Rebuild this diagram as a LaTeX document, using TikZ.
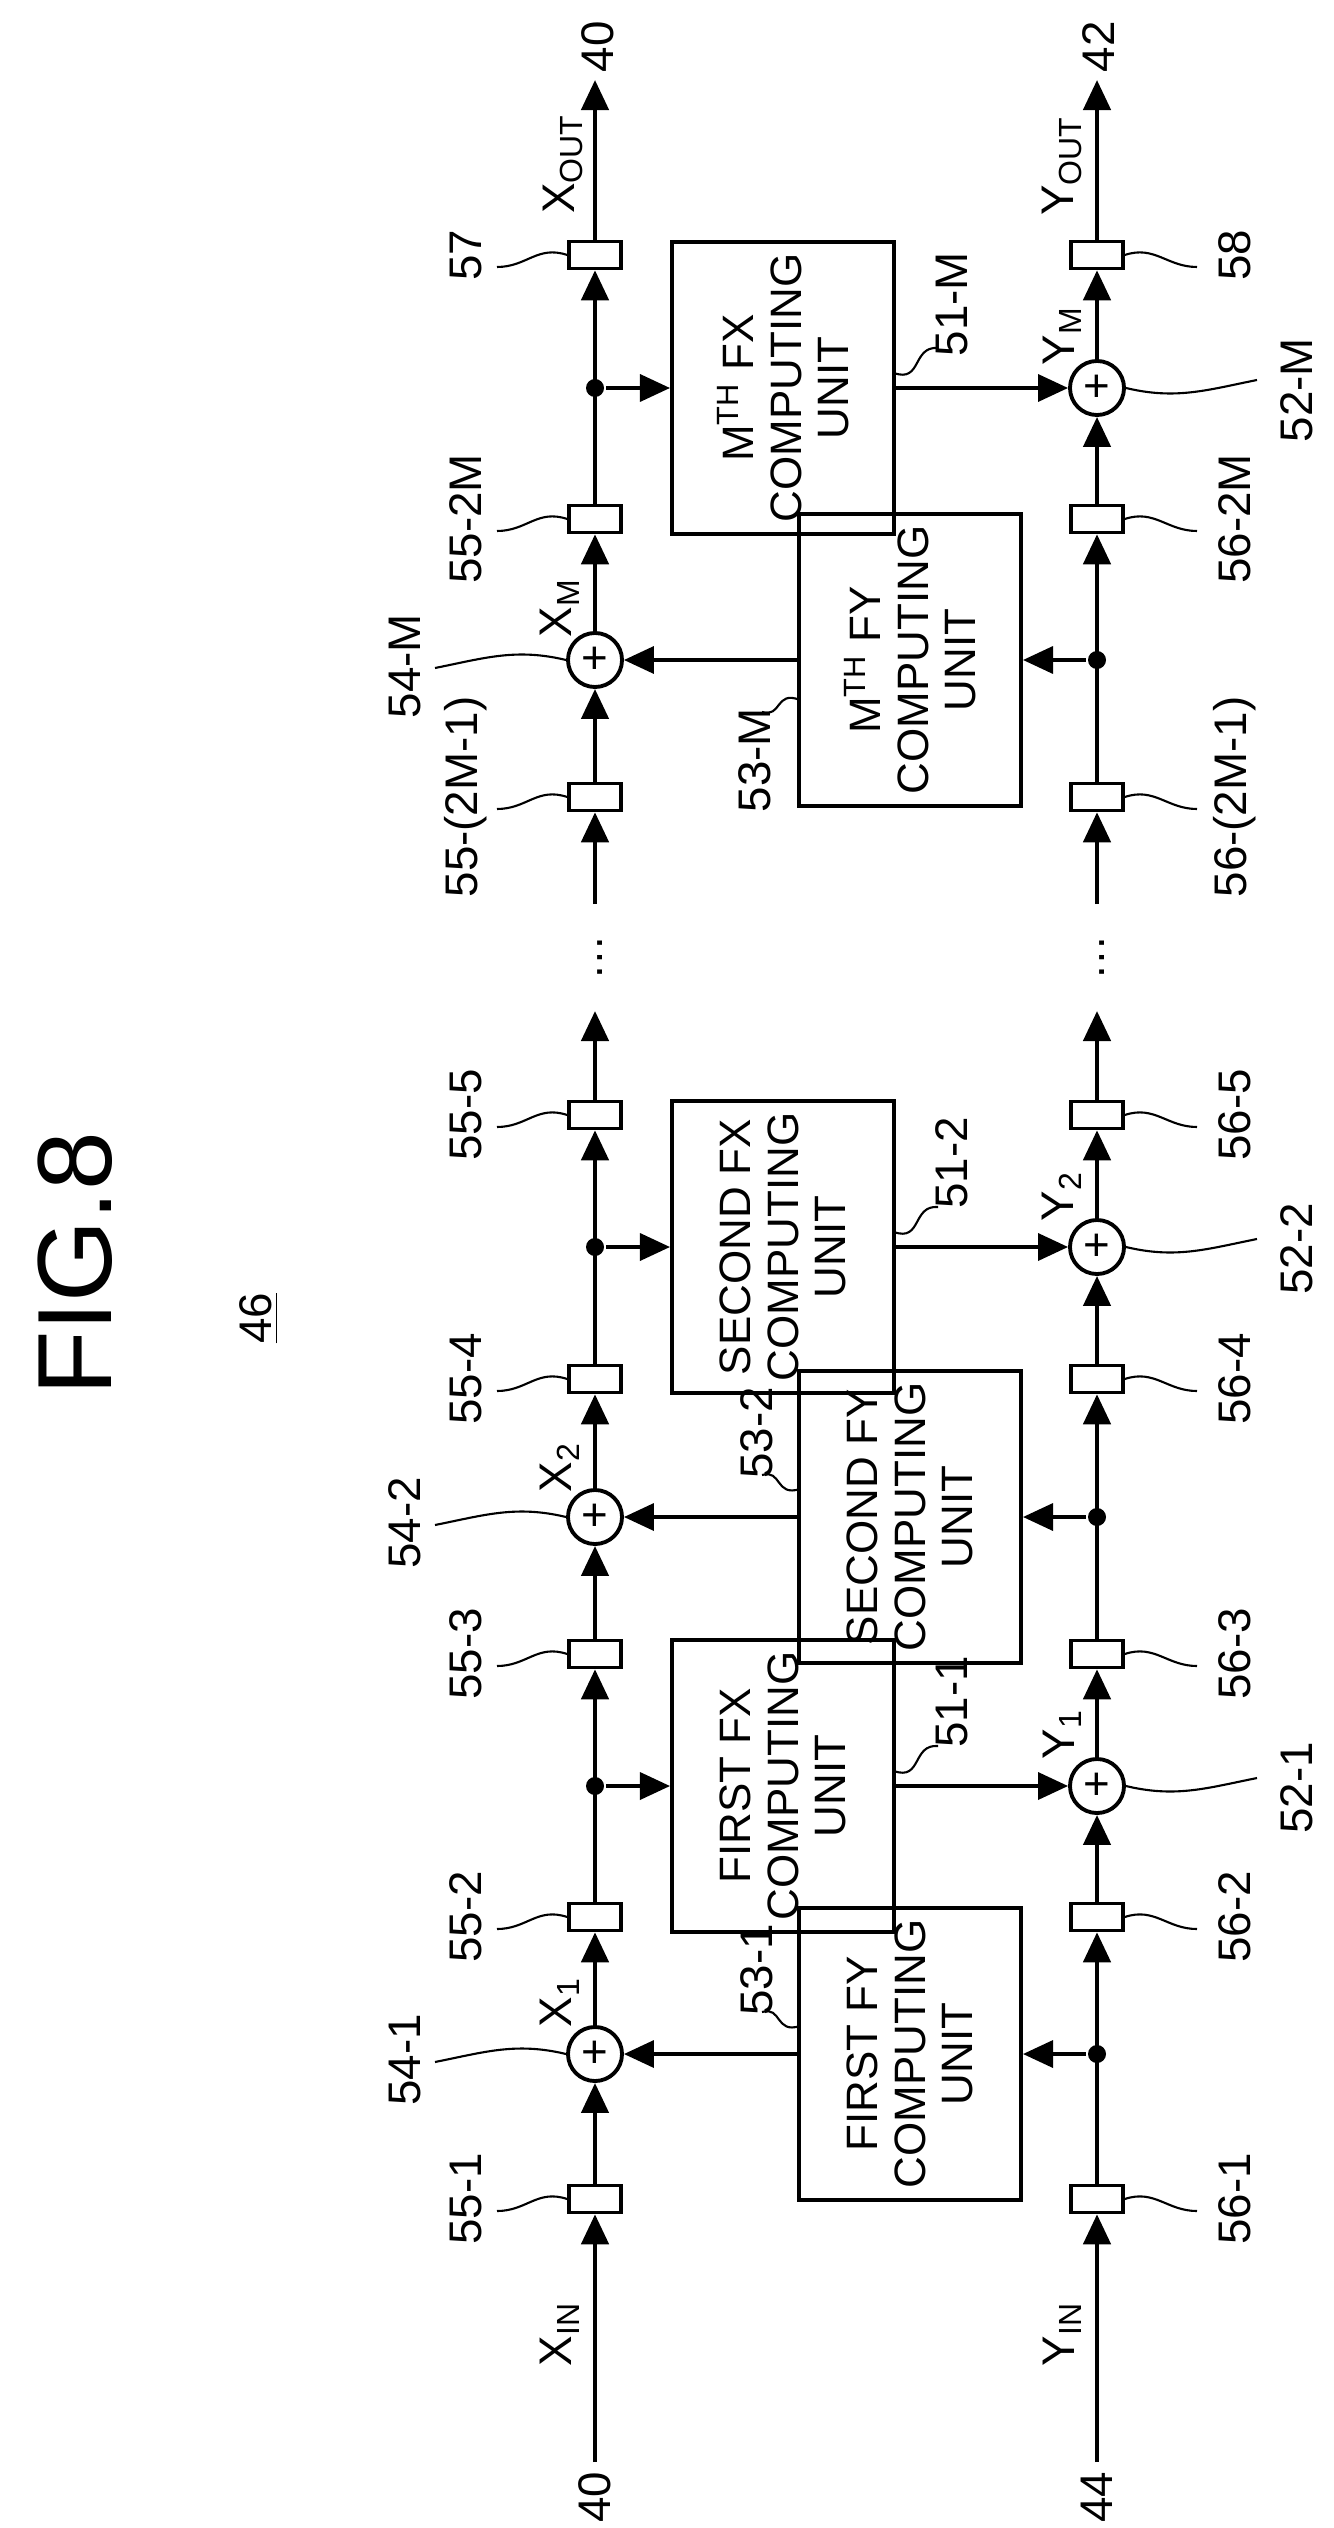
\documentclass[tikz,border=0pt]{standalone}
\usepackage{fontspec}
\setmainfont{Liberation Sans}
\usetikzlibrary{arrows.meta,calc}
\newcommand{\lblfont}{\fontsize{13}{15}\selectfont}
\newcommand{\unitfont}{\fontsize{12.5}{13.5}\selectfont}

\begin{document}
\begin{tikzpicture}[x=0.01cm,y=-0.01cm,line width=1.3pt,
	>={Triangle[length=0.3cm,width=0.27cm]},
	lbl/.style={rotate=90,font=\lblfont,inner sep=0pt},
	delay/.style={draw,line width=1pt,fill=white,minimum width=0.52cm,minimum height=0.27cm,inner sep=0pt},
	adder/.style={draw,circle,line width=1.1pt,minimum size=0.54cm,inner sep=0pt,font=\lblfont},
	unit/.style={draw,line width=1.1pt,rotate=90,minimum width=2.62cm,minimum height=2.22cm,align=center,font=\unitfont},
	jn/.style={circle,fill,inner sep=0pt,minimum size=0.18cm},
	lead/.style={line width=0.6pt}]
	\useasboundingbox (0,0) rectangle (1333,2528);
	% title
	\node[rotate=90,font=\fontsize{30}{32}\selectfont] (title) at (75,1264) {FIG.8};
	\node[lbl] (ref) at (259,1318) {\underline{46}};
	% delay elements on both lines
	\foreach \n/\y/\lx/\ly in {1/2199/55-1/56-1,2/1917/55-2/56-2,3/1654/55-3/56-3,4/1379/55-4/56-4,
		5/1115/55-5/56-5,6/797/55-(2M-1)/56-(2M-1),7/519/55-2M/56-2M,8/255/57/58}{
		\node[delay] (dx\n) at (595,\y) {};
		\node[delay] (dy\n) at (1097,\y) {};
		\draw[lead] (dx\n.west) .. controls +(-30,-10) and +(30,0) .. (497,\y+12);
		\draw[lead] (dy\n.east) .. controls +(30,-10) and +(-30,0) .. (1197,\y+12);
		\node[lbl] at (466,\y) {\lx};
		\node[lbl] at (1235,\y) {\ly};
	}
	% adders
	\node[adder] (a541) at (595,2054) {+};
	\node[adder] (a542) at (595,1517) {+};
	\node[adder] (a54M) at (595,660) {+};
	\node[adder] (a521) at (1097,1786) {+};
	\node[adder] (a522) at (1097,1247) {+};
	\node[adder] (a52M) at (1097,388) {+};
	\foreach \a/\t in {a541/54-1,a542/54-2,a54M/54-M}{
		\draw[lead] (\a.west) .. controls +(-50,-12) and +(50,-10) .. ($(\a)+(-160,8)$);
		\node[lbl] at ($(\a)+(-190,6)$) {\t};
	}
	\foreach \a/\t in {a521/52-1,a522/52-2,a52M/52-M}{
		\draw[lead] (\a.east) .. controls +(50,12) and +(-50,10) .. ($(\a)+(160,-8)$);
		\node[lbl] at ($(\a)+(200,2)$) {\t};
	}
	% branch points
	\node[jn] (jx1) at (595,1786) {};
	\node[jn] (jx2) at (595,1247) {};
	\node[jn] (jxM) at (595,388) {};
	\node[jn] (jy1) at (1097,2054) {};
	\node[jn] (jy2) at (1097,1517) {};
	\node[jn] (jyM) at (1097,660) {};
	% computing units
	\node[unit] (fx1) at (783,1786) {FIRST FX\\COMPUTING\\UNIT};
	\node[unit] (fx2) at (783,1247) {SECOND FX\\COMPUTING\\UNIT};
	\node[unit] (fxM) at (783,388) {M\textsuperscript{TH} FX\\COMPUTING\\UNIT};
	\node[unit] (fy1) at (910,2054) {FIRST FY\\COMPUTING\\UNIT};
	\node[unit] (fy2) at (910,1517) {SECOND FY\\COMPUTING\\UNIT};
	\node[unit] (fyM) at (910,660) {M\textsuperscript{TH} FY\\COMPUTING\\UNIT};
	\foreach \u/\y/\t in {fx1/1786/51-1,fx2/1247/51-2,fxM/388/51-M}{
		\draw[lead] (894,\y-15) .. controls (922,\y-5) and (912,\y-42) .. (938,\y-40);
		\node[lbl] at (952,\y-84) {\t};
	}
	\foreach \u/\y/\t in {fy1/2054/53-1,fy2/1517/53-2}{
		\draw[lead] (800,\y-28) .. controls (775,\y-20) and (782,\y-48) .. (762,\y-42);
		\node[lbl] at (757,\y-84) {\t};
	}
	\draw[lead] (800,700) .. controls (775,690) and (782,718) .. (762,712);
	\node[lbl] at (755,760) {53-M};
	% X line
	\coordinate (xin) at (595,2462);
	\coordinate (xbrk) at (595,1011);
	\coordinate (xres) at (595,904);
	\coordinate (xout) at (595,80);
	\draw[->] (xin) -- (dx1);
	\draw[->] (dx1) -- (a541);
	\draw[->] (a541) -- (dx2);
	\draw[->] (dx2) -- (dx3);
	\draw[->] (dx3) -- (a542);
	\draw[->] (a542) -- (dx4);
	\draw[->] (dx4) -- (dx5);
	\draw[->] (dx5) -- (xbrk);
	\draw[->] (xres) -- (dx6);
	\draw[->] (dx6) -- (a54M);
	\draw[->] (a54M) -- (dx7);
	\draw[->] (dx7) -- (dx8);
	\draw[->] (dx8) -- (xout);
	% Y line
	\coordinate (yin) at (1097,2462);
	\coordinate (ybrk) at (1097,1011);
	\coordinate (yres) at (1097,904);
	\coordinate (yout) at (1097,80);
	\draw[->] (yin) -- (dy1);
	\draw[->] (dy1) -- (dy2);
	\draw[->] (dy2) -- (a521);
	\draw[->] (a521) -- (dy3);
	\draw[->] (dy3) -- (dy4);
	\draw[->] (dy4) -- (a522);
	\draw[->] (a522) -- (dy5);
	\draw[->] (dy5) -- (ybrk);
	\draw[->] (yres) -- (dy6);
	\draw[->] (dy6) -- (dy7);
	\draw[->] (dy7) -- (a52M);
	\draw[->] (a52M) -- (dy8);
	\draw[->] (dy8) -- (yout);
	% branches
	\foreach \j/\u/\a in {jx1/fx1/a521,jx2/fx2/a522,jxM/fxM/a52M,jy1/fy1/a541,jy2/fy2/a542,jyM/fyM/a54M}{
		\draw[->,line width=1pt] (\j) -- (\u);
		\draw[->,line width=1pt] (\u) -- (\a);
	}
	% dots and signal names
	\node[lbl] (xdots) at (600,958) {\dots};
	\node[lbl] (ydots) at (1102,958) {\dots};
	\node[lbl] at (595,2497) {40};
	\node[lbl] at (1097,2497) {44};
	\node[lbl] at (598,47) {40};
	\node[lbl] at (1099,47) {42};
	\node[lbl] at (560,2334) {X\textsubscript{IN}};
	\node[lbl] at (1062,2334) {Y\textsubscript{IN}};
	\node[lbl] at (560,2002) {X\textsubscript{1}};
	\node[lbl] at (560,1467) {X\textsubscript{2}};
	\node[lbl] at (560,608) {X\textsubscript{M}};
	\node[lbl] at (563,164) {X\textsubscript{OUT}};
	\node[lbl] at (1062,1734) {Y\textsubscript{1}};
	\node[lbl] at (1062,1196) {Y\textsubscript{2}};
	\node[lbl] at (1062,336) {Y\textsubscript{M}};
	\node[lbl] at (1062,166) {Y\textsubscript{OUT}};
\end{tikzpicture}
\end{document}
